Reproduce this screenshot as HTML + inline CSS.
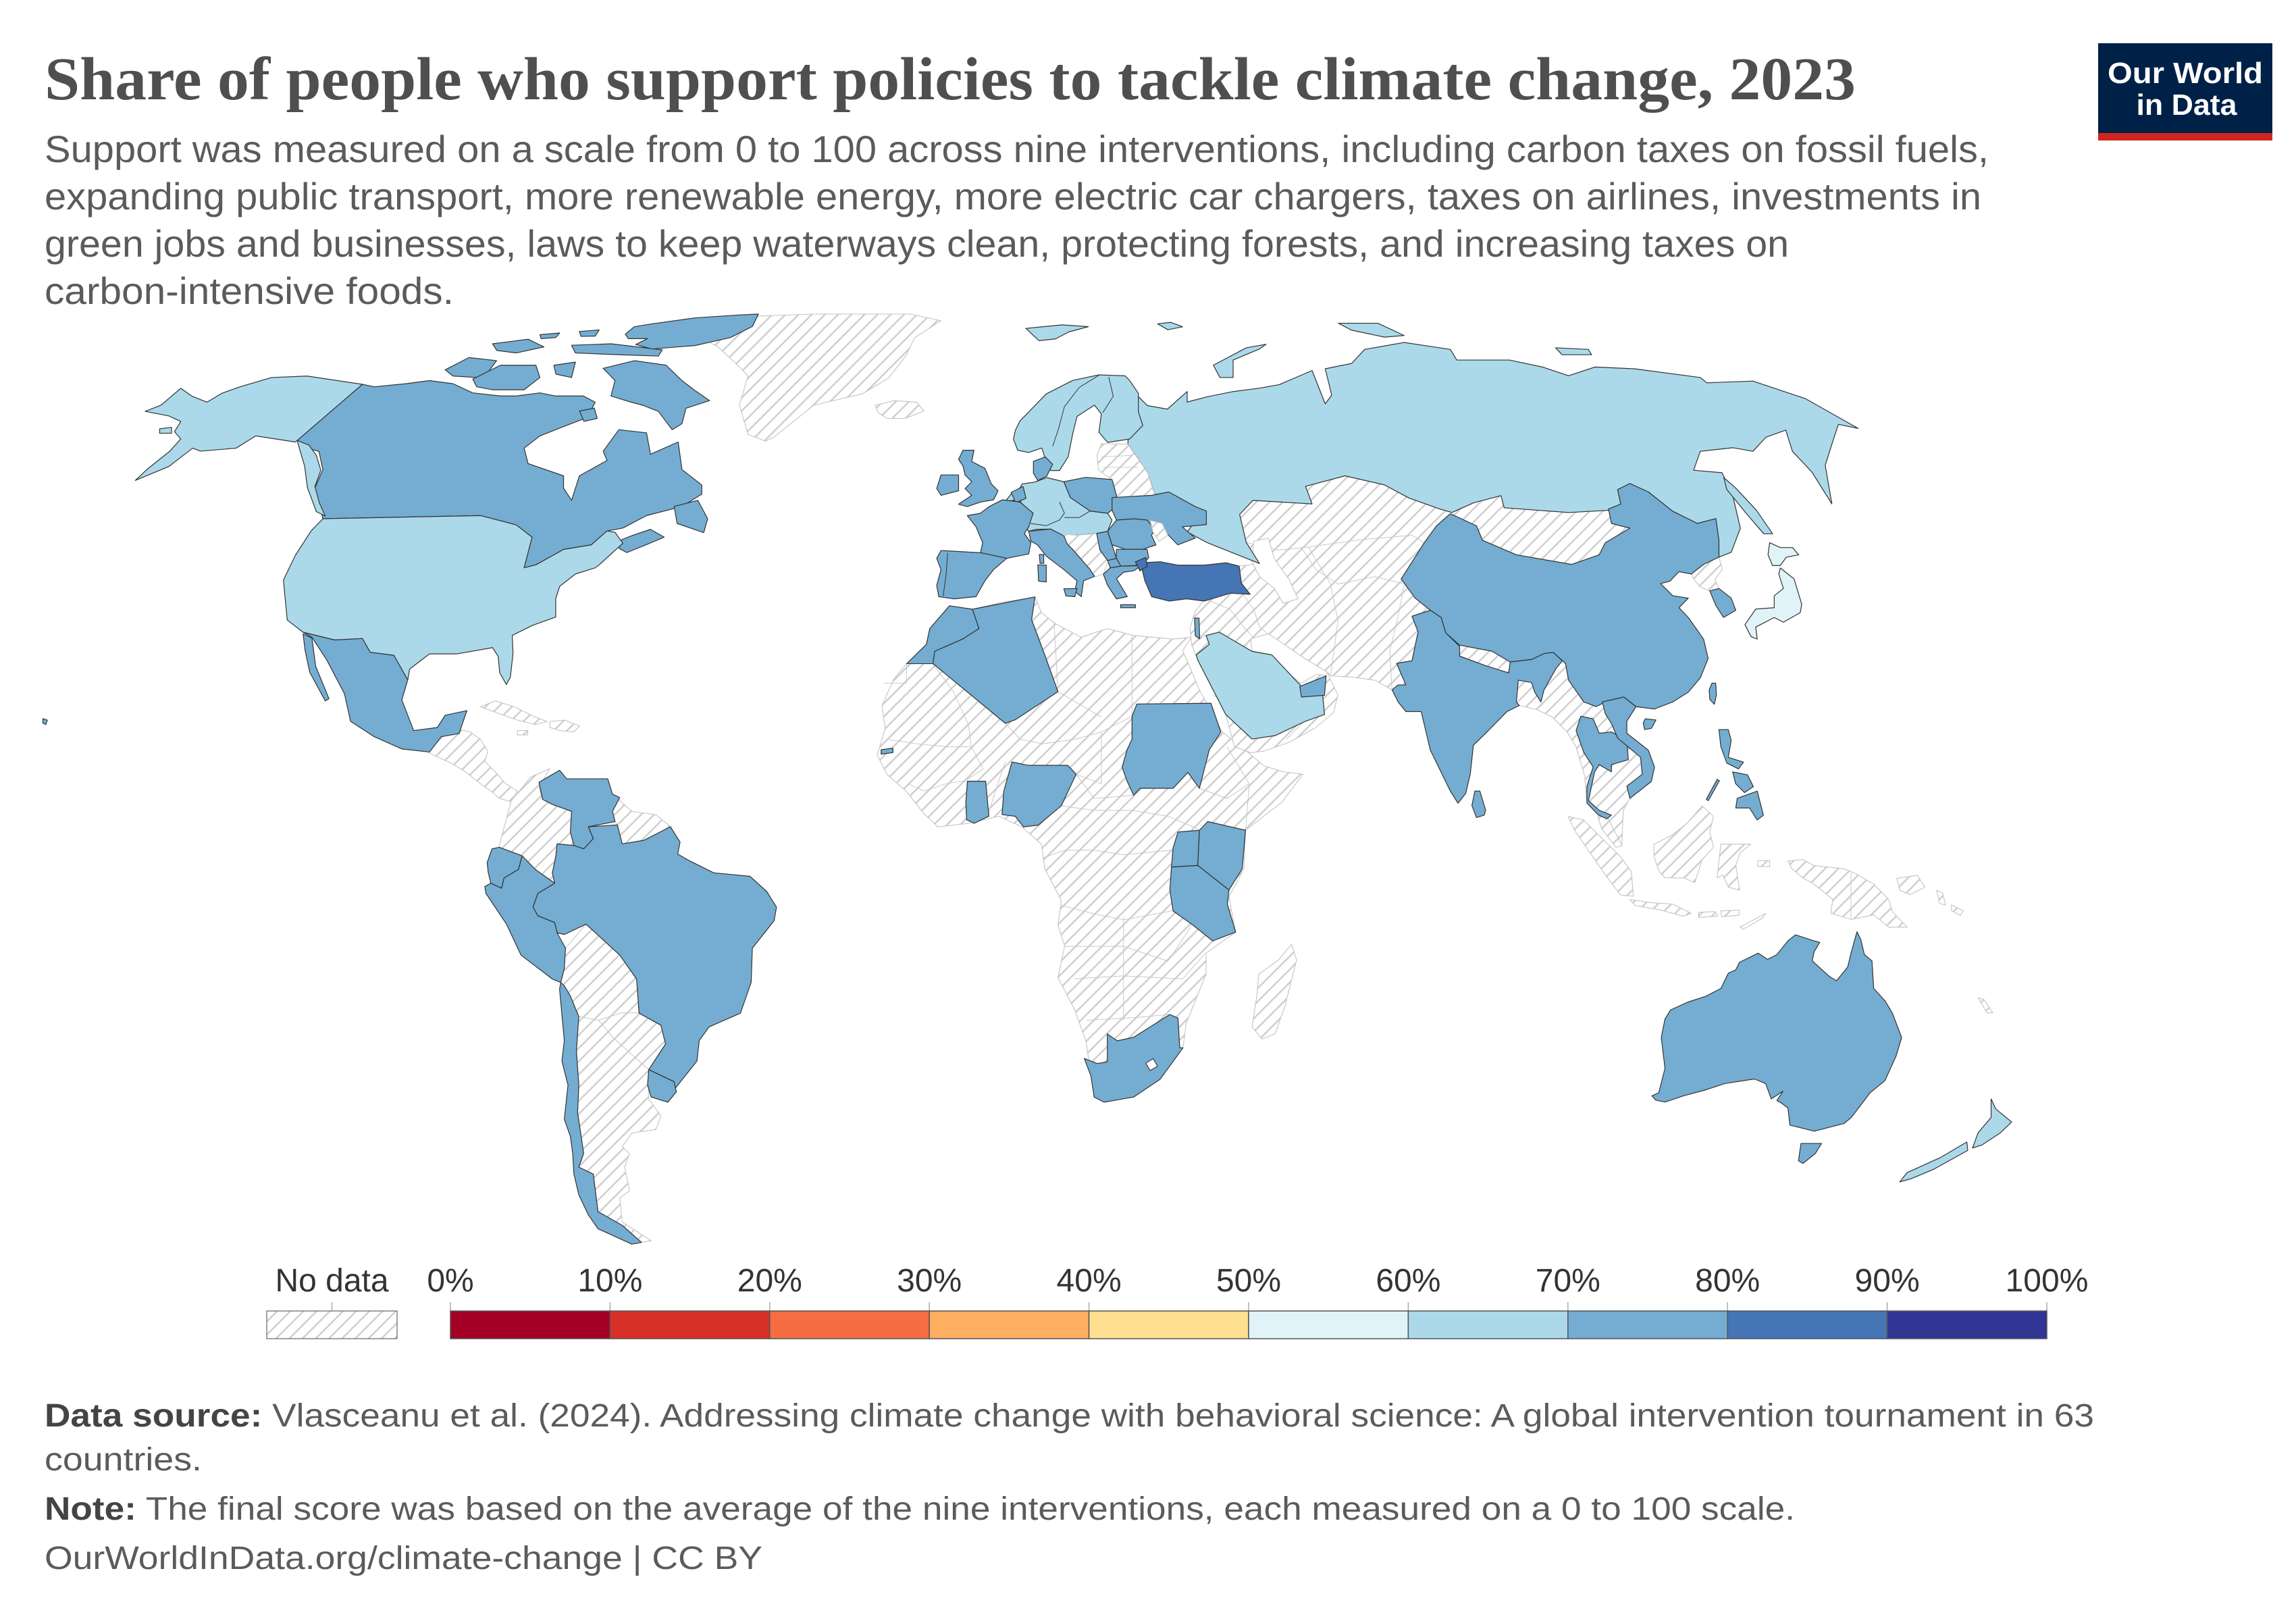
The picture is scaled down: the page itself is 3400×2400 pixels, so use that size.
<!DOCTYPE html>
<html><head><meta charset="utf-8"><style>
html,body{margin:0;padding:0;background:#fff;}
svg{display:block;}
.m{fill:#74add1;stroke:#333;stroke-width:.55;stroke-linejoin:round}
.l{fill:#abd9e9;stroke:#333;stroke-width:.55;stroke-linejoin:round}
.d{fill:#4575b4;stroke:#333;stroke-width:.55;stroke-linejoin:round}
.x{fill:#e0f3f8;stroke:#333;stroke-width:.55;stroke-linejoin:round}
.h{fill:url(#hp);stroke:#c4c4c4;stroke-width:.5;stroke-linejoin:round}
.b{fill:none;stroke:#c8c8c8;stroke-width:.45}
.k{fill:none;stroke:#333;stroke-width:.45}
.w{fill:#fff;stroke:#c4c4c4;stroke-width:.5}
</style></head><body>
<svg width="3400" height="2400" viewBox="0 0 3400 2400" xmlns="http://www.w3.org/2000/svg">
<defs>
<pattern id="hp" patternUnits="userSpaceOnUse" width="6.3" height="6.3" patternTransform="rotate(45)"><rect width="6.3" height="6.3" fill="#fff"/><line x1="3.15" y1="0" x2="3.15" y2="6.3" stroke="#cdcdcd" stroke-width="1.1"/></pattern>
<pattern id="hp2" patternUnits="userSpaceOnUse" width="13.8" height="13.8" patternTransform="rotate(45)"><rect width="13.8" height="13.8" fill="#fff"/><line x1="6.9" y1="0" x2="6.9" y2="13.8" stroke="#cdcdcd" stroke-width="2.4"/></pattern>
</defs>
<rect width="3400" height="2400" fill="#fff"/>

<!-- Title -->
<text x="66" y="147" font-family="'Liberation Serif', serif" font-weight="bold" font-size="90" fill="#4f4f4f" textLength="2682" lengthAdjust="spacingAndGlyphs">Share of people who support policies to tackle climate change, 2023</text>
<g font-family="'Liberation Sans', sans-serif" font-size="56" fill="#5b5b5b">
<text x="66" y="240" textLength="2879" lengthAdjust="spacingAndGlyphs">Support was measured on a scale from 0 to 100 across nine interventions, including carbon taxes on fossil fuels,</text>
<text x="66" y="310" textLength="2868" lengthAdjust="spacingAndGlyphs">expanding public transport, more renewable energy, more electric car chargers, taxes on airlines, investments in</text>
<text x="66" y="380" textLength="2583" lengthAdjust="spacingAndGlyphs">green jobs and businesses, laws to keep waterways clean, protecting forests, and increasing taxes on</text>
<text x="66" y="450" textLength="606" lengthAdjust="spacingAndGlyphs">carbon-intensive foods.</text>
</g>

<!-- Logo -->
<rect x="3107" y="64" width="258" height="133" fill="#002147"/>
<rect x="3107" y="197" width="258" height="11" fill="#ce261e"/>
<g font-family="'Liberation Sans', sans-serif" font-weight="bold" font-size="44" fill="#fff" text-anchor="middle">
<text x="3236" y="123" textLength="230" lengthAdjust="spacingAndGlyphs">Our World</text>
<text x="3238" y="170" textLength="149" lengthAdjust="spacingAndGlyphs">in Data</text>
</g>

<!-- MAP -->
<g transform="scale(2.18926)">
<!-- hatched (no data) -->
<polygon class="h" points="470.4,226.8 509,213.9 550.5,212.4 615.8,212.4 636.5,216.9 618.7,228.3 612.8,240.5 600.9,255.8 583.1,266.4 550.5,274 523.8,295.4 517.9,298.4 506,293.8 500.1,274 506,254.2 497,245 485.3,234.4"/>
<polygon class="h" points="592,274 605,271 620,272 625,278 612,283 600,283 594,279"/>
<polygon class="h" points="290,509 294,494 300,493 306,492 318,495 325,500 330,508 328,515 335,522 342,530 350,535 345,542 338,540 332,535 325,530 315,522 305,516 296,512"/>
<polygon class="h" points="325,478 335,474 348,478 360,484 370,488 362,490 350,487 336,482"/>
<polygon class="h" points="372,488 382,487 392,491 388,495 378,494 372,492"/>
<polygon class="h" points="350,494 357,494 357,497 350,497"/>
<polygon class="h" points="337.7,571.8 345.8,541.7 358.9,525.5 371.9,519.8 364.6,532.5 367,540.6 373.6,544 386.6,548.7 385.8,562.6 388.2,571.8 376.8,570.7 376,578.8 373.6,590.3 375.2,597.3 362.1,588 353.2,578.8 337.7,573"/>
<polygon class="h" points="414.3,537.1 427.4,548.7 443.7,551 453.5,559.1 450.2,567.2 435.5,568.3 420.9,570.7 417.6,557.9 416,555.6 414.3,548.7 419.2,539.4"/>
<polygon class="h" points="381.7,655.1 382.5,641.2 396.4,625 419.2,645.9 430.6,662.1 432.3,685.2 447,693.3 450.2,706 438.8,723.4 438.8,743.1 447,754.6 443.7,763.9 427.4,766.2 420.9,775.5 425.8,780.1 422.5,789.3 425.8,805.5 419.2,810.2 420.9,826.4 440.4,839.1 433.9,840.2 420.9,828.7 404.5,819.4 401.3,794 391.5,789.3 394.8,780.1 390.7,752.3 391.5,733.8 389.9,710.7 391.5,687.5 385.8,673.6 379.3,664.4"/>
<polyline class="b" points="391.5,687.5 405,690 420,685 432,685"/>
<polyline class="b" points="405,690 415,702 438.8,723.4"/>
<!-- Africa -->
<polygon class="h" points="642.2,409.7 628.9,425.1 626.6,435.8 613.3,448.8 604.4,459.5 596.6,477.3 598.8,492.7 593.3,510.5 599.9,523.6 613.3,535.4 624.4,549.7 634.4,559.2 655.6,556.8 675.6,552 691.2,559.2 704.5,571 706.7,587.6 717.9,609 715.6,625.6 720.1,639.8 715.6,661.2 726.8,682.6 734.5,703.9 740.1,741.9 746.8,745.4 766.8,741.9 784.6,730 800.2,708.6 802.4,692 815.8,658.8 815.8,644.6 835.8,630.4 831.3,606.6 841.3,587.6 842.5,561.5 867,542.5 881.4,523.6 868,522 855,518 844.7,509.3 826.9,495.1 811.3,466.6 800,440 806,431 793.5,432.2 766.8,429.8 749,425.1 731.2,431 713.4,421.5 704.5,414.4 700.1,403.7 677.8,407.3 657.8,412"/>
<polyline class="b" points="613.3,448.8 613,462 598,462"/>
<polyline class="b" points="631,449 645,468 655,490 657,505 640,505 620,503 600,500"/>
<polyline class="b" points="680,489 690,500 705,503 727,500 745,495 765.7,484.4"/>
<polyline class="b" points="713,421 715.6,467.8 728,475 745,485"/>
<polyline class="b" points="765.7,429.8 765.7,484.4"/>
<polyline class="b" points="745,495 745,530 727.9,523.6"/>
<polyline class="b" points="727.9,523.6 740,540 766.8,537.8"/>
<polyline class="b" points="718,545 740,548 766,548 790,552 811,561"/>
<polyline class="b" points="706,580 720,575 740,575 760,578 792,575"/>
<polyline class="b" points="717,612 740,618 760,622 793,616"/>
<polyline class="b" points="720,640 760,640 790,650 806,626"/>
<polyline class="b" points="726.8,662 760,660 800,662"/>
<polyline class="b" points="735,690 770,688 791,686"/>
<polyline class="b" points="760,620 760,690"/>
<polyline class="b" points="653,528 640,530 625,535 614,530"/>
<polyline class="b" points="668,552 675,530 680,515"/>
<polyline class="b" points="657,505 665,520 653,528"/>
<polyline class="b" points="800,662 815,645"/>
<polyline class="b" points="820,470 842,480"/>
<polyline class="b" points="830,505 845,530 842.5,561.5"/>
<polyline class="b" points="811,533 830,540 845,530"/>
<polygon class="h" points="873.6,638.6 877,649.3 869.2,680.2 862.5,699.2 853.6,702.7 846.9,694.4 850.2,673 851.4,658.8 864.7,649.3"/>
<!-- Middle East / Central Asia / Mongolia -->
<polygon class="h" points="838,347 847.5,338.4 883.1,328.9 909.8,321.8 936.4,327.9 953,336.8 973.8,344.2 982.1,346.6 996.6,340.1 1015.3,335.2 1017.4,343.4 1061,346.6 1090,345 1096.3,340.9 1102.5,345 1090,354 1102.5,357.2 1085.9,367 1081.7,375.2 1063,381.7 1025.7,375.2 1002.8,365.4 998.7,355.6 981,347.4 971.7,355.6 963.4,367 947.8,391.5 957.2,404.5 967.5,412.7 955.1,416.7 959.2,427.3 955.1,446.9 944.7,448.6 950.9,463.2 945.7,463.2 941.6,466.5 930,460 915,458 900,457 898,454.7 900,460 905,470 902,482 890,492 872,502 855,508 846,509 835,505 829.1,483.2 810.2,446.4 806,436 805,425 808,414 815,405 832,401 845.6,401.9 839.7,394.4 838.2,382.9 851.9,381.1 843,366.9"/>
<polyline class="b" points="815,405 832,412 842,425 848,431"/>
<polyline class="b" points="840,401 848,412 852,424 858,429"/>
<polyline class="b" points="885,370 900,395 905,420 900,457"/>
<polyline class="b" points="905,395 930,390 950,395 945,420 940,440 941.6,466.5"/>
<polyline class="b" points="843,366.9 865,372 885,370 920,365 955,362 963.4,367"/>
<polyline class="b" points="880,370 890,385 905,395"/>
<polyline class="b" points="870,500 882,488"/>
<polyline class="b" points="806,436 815,430 822,428"/>
<!-- Caspian & Gulf -->
<polygon class="w" points="848,366 858,364 862,378 872,392 878,405 868,408 862,398 852,390 847,380"/>
<polygon class="w" points="846,432 858,428.6 882.5,445.3 898,454.7 897,457 891,456 880,462 873.6,457.1 860.3,442.9 846.9,440.5"/>
<!-- Indochina / Nepal / N Korea -->
<polygon class="h" points="1024,455 1044,446 1058.9,448.6 1061,460 1071.3,474.7 1079.6,477.9 1085.9,474.7 1098.3,471.4 1106.6,477.9 1100.4,487.7 1100.4,495.9 1114.9,507.3 1119.1,518.7 1117,528.5 1102.5,539.9 1098,548 1097,572 1093,568 1086,556 1078,548 1073,541 1072,525 1066,505 1060,495 1050,485 1040,480 1027.7,477.1 1025.7,474.7"/>
<polygon class="h" points="987.3,436.3 1009.1,440.4 1021.5,447.7 1020.5,455.1 1004.9,450.2 987.3,443.7"/>
<polygon class="h" points="1144,388.2 1152.3,381.7 1162.7,376.8 1165,385 1160,392 1162.7,398 1156.5,399.6 1150,397 1146,392"/>
<!-- Indonesia / PNG -->
<polygon class="h" points="1060.7,552.2 1070.8,554.3 1083.4,566.8 1096,579.2 1103.5,589.6 1104.8,606.2 1096,605.2 1085.9,591.7 1075.8,577.1 1065.7,562.6"/>
<polygon class="h" points="1080.9,552.2 1086,550 1093.5,564.7 1097.2,572 1093,573 1083.4,560.5"/>
<polygon class="h" points="1118.7,570.9 1131.3,564.7 1141.4,556.4 1151.4,545 1159,552.2 1156.5,562.6 1159,573 1151.4,581.3 1146.4,596.9 1138.8,593.7 1126.2,593.7 1122.4,589.6 1118.7,579.2"/>
<polygon class="h" points="1164,570.9 1184.2,570.9 1176.7,577.1 1174.1,585.4 1176.7,602 1169.1,600 1165.3,591.7 1161.5,593.7 1162.8,581.3"/>
<polygon class="h" points="1102.3,608.3 1116.1,610.4 1131.3,611.4 1143.9,617.6 1138.8,619.7 1123.7,615.5 1106.1,612.4"/>
<polygon class="h" points="1148.9,617 1160,616.5 1162,619.5 1149,620.5"/>
<polygon class="h" points="1164,616 1176.7,615.5 1176,619 1164.5,620"/>
<polygon class="h" points="1177,627 1194.3,617.7 1192,621 1179,628.5"/>
<polygon class="h" points="1189,582 1197,582 1197,586 1189,586"/>
<polygon class="h" points="1209.4,582.3 1219.5,581.3 1227,585.4 1247.2,587.5 1254.8,590.6 1267.4,597.9 1277.5,608.3 1280,616.6 1290.1,627 1277.5,627 1267.4,618.7 1252.3,621.8 1238.4,617.6 1239.7,608.3 1227,597.9 1219.5,593.7 1212,587.5"/>
<polyline class="b" points="1252,590 1252,621"/>
<polygon class="h" points="1283,594 1297,592 1302,600 1292,605 1285,602"/>
<polygon class="h" points="1310,602 1314,604 1316,612 1312,611"/>
<polygon class="h" points="1320,612 1328,616 1326,619 1320,616"/>
<polygon class="h" points="1338,674.7 1342,676 1348,685 1344,685"/>

<!-- Light blue -->
<polygon class="l" points="762.9,261.3 776.2,274.3 789.6,276.7 803,264.8 803,271.9 816.3,268.4 834.1,264.8 851.9,262.5 865.3,260.1 887.5,250.6 896.4,273.1 900.8,267.2 896.4,249.4 914.2,245.8 923.1,236.3 949.8,231.6 981,236.3 985.4,243.5 1021,243.5 1043.3,248.2 1061,254.1 1078.9,248.2 1105.6,249.4 1150.1,255.3 1154.5,258.9 1185.7,257.7 1221.2,269.6 1256.9,289.7 1243.5,287 1239.1,300.4 1234.6,314.7 1239.1,340.8 1225.7,319.4 1212.4,305.2 1207.9,290.9 1194.5,295.7 1185.7,305.2 1172.3,302.8 1150.1,305.2 1145.6,318 1164.8,319.7 1172,335 1177.2,357.2 1171,373.5 1162.7,376.8 1162.7,365.4 1160.6,350.7 1148.2,354 1131.5,345.8 1115,332.7 1102.5,327 1094.2,331.1 1096.3,340.9 1090,345 1061,346.6 1017.4,343.4 1015.3,335.2 996.6,340.1 982.1,346.6 973.8,344.2 953,336.8 936.4,327.9 909.8,321.8 883.1,328.9 887.5,340.8 847.5,338.4 838.5,347.9 843,366.9 851.9,381.1 816.3,366.9 803,359.7 811.9,347.9 789.6,338.4 780.7,333.6 776.2,319.4 762.9,300.4 764,280"/>
<polygon class="l" points="693.9,222.1 718.4,219.7 736.2,220.9 722.9,224.5 714,229.2 702.8,230.4"/>
<polygon class="l" points="783,219 792,218 800,221 790,223"/>
<polygon class="l" points="820.7,247 843,235.2 856.4,232.8 851.9,236 834.1,243.5 834.1,255.3 825.2,255.3"/>
<polygon class="l" points="905.3,218.6 932,218.6 949.8,226.9 936.5,228 914.2,223.3"/>
<polygon class="l" points="1052.2,235.2 1074.4,236.3 1076.6,239.9 1056.6,239.9"/>
<polygon class="l" points="1166,323 1174,330 1188,345 1199,361 1193,361 1181,347 1168,331"/>
<polygon class="l" points="686.9,290.8 689.9,284.7 707.7,266.4 725.5,257.3 743.3,253.5 761.1,254.2 764.1,257.3 770,266 770,278.6 773,287.7 764.1,296.9 749.2,299.2 743.3,292.3 745,280 740.3,274 728.5,281.6 725.5,293.8 722.5,309 716.6,318.2 710.7,318.2 707,310 704.7,303 695.8,306 688.4,304.5 685.5,296.9"/>
<polyline class="k" points="743,254 730,262 720,275 716,290 712,302"/>
<polyline class="k" points="750,255 753,268 746,279"/>
<!-- Belarus/Baltics, Balkans hatched -->
<polygon class="h" points="745,300 762.9,300.4 776.2,319.4 780.7,333.6 789.6,338.4 778,337 765,336 755.2,336.5 752.2,324.3 743,318 742,308"/>
<polyline class="b" points="745,309 765,308"/>
<polyline class="b" points="746,316 770,316"/>
<polygon class="l" points="686.9,335 691.4,327.3 700,326 708,323 719.6,325.8 724,336.5 737.4,345.6 749.2,347.1 752.2,351.7 749.2,359.3 741.8,360.8 728,362 719.6,362.4 710.7,357.8 701,358 695.8,359.3 692.9,355 697,351 698.8,347.1 689.9,339.5 680,339 684,334"/>
<polyline class="k" points="716.6,339.5 720,347 716.6,351.7 707.7,355.5 697,354"/>
<polyline class="k" points="737.4,345.6 730,350 720,350"/>
<polygon class="l" points="680,339 690,338 692,344 684,345"/>
<polygon class="m" points="684,333 692,329 694,337 687,340"/>
<polygon class="m" points="699,312 707,309 712,314 708,322 702,325 699,320"/>
<polygon class="m" points="719.6,325.8 734.4,322.8 752.2,324.3 755.2,335 755.2,342.6 749.2,347.1 737.4,345.6 724,336.5"/>
<polygon class="m" points="752.2,336.5 778.9,335 790.6,332.7 808.5,342.6 816,345.6 816,354.8 799.7,356.3 808.5,363.9 796.7,368.5 787.8,359.3 778.9,360.8 775.9,351.7 767,350.9 755.2,351.7 752.2,345"/>
<polygon class="h" points="716,361 728,362 741.8,360.8 749.2,359.3 752.2,368.5 755.2,377.6 749.2,380.6 746.3,388.3 741,390 735,384 728,377 720,368"/>
<polygon class="m" points="755.2,351.7 767,350.9 775.9,351.7 781,358 778.9,362 781.9,368.5 772.9,371.5 761.1,371.5 752.2,368.5 749.2,359.3"/>
<polygon class="h" points="778,352 786,354 790,362 784,366 780,360"/>
<polygon class="m" points="755.2,371.5 775.9,371.5 777,377 772.9,382.2 758.1,382.9 755,377.6"/>
<polygon class="m" points="741.8,360.8 749.2,359.3 752.2,368.5 755.2,377.6 749.2,379.1 744,372"/>
<polygon class="m" points="749.2,379.1 755.2,377.6 758.1,382.9 751,384"/>
<polygon class="m" points="746.3,388.3 751,384 758.1,382.9 772,382.5 766.9,386 760,387 755.2,391.3 762.5,403.5 755.2,405 749.2,395.9"/>
<polygon class="m" points="758,409 768,409 768,411 758,411"/>
<!-- Western Europe -->
<polygon class="m" points="651.4,304.5 658.8,304.5 657.3,312.1 666.2,316.7 670.6,327.3 675.1,331.9 672.1,338 663.2,339.5 654.3,342.6 648.4,341 657.3,335 652.8,330.4 657.3,325.8 652.8,321.2 651.4,315.2 648.4,310.6"/>
<polygon class="m" points="636.5,321.2 648.4,321.2 648.4,331.9 636.5,335 633.6,330.4"/>
<polygon class="m" points="678,338 689.9,339.5 698.8,347.1 695.8,356.3 692.9,360.8 697.3,367 695.8,374.6 681,377.6 663.2,373.8 664.7,367 660.2,356.3 654.3,348.7 663.2,347.1 669.1,342.6"/>
<polygon class="m" points="636.5,372.3 663.2,373.8 681,377.6 672.1,385.2 666.2,392.8 660.2,403.5 645.4,405 635,403.5 633.6,395.9 636.5,385.2 633.6,377.6"/>
<polyline class="k" points="641,374 640,388 638,403"/>
<polygon class="m" points="695.8,359.3 710.7,357.8 719.6,362.4 722,368 725.5,371.5 737.4,385.2 740.3,389.8 732.9,392.8 731.4,403.5 727,400 728.5,392.8 719.6,385.2 707.7,376.1 701.8,368.5 697.3,366"/>
<polygon class="m" points="719.6,398.2 728.5,398 727,403.5 721,403"/>
<polygon class="m" points="702,382 707.7,382.2 707.7,393.6 702.5,393"/>
<polygon class="m" points="703,375 706,375 706,381 703.5,381"/>
<!-- Turkey -->
<polygon class="d" points="771.5,380.6 784.8,379.9 796.7,382.2 814.5,382.2 829.3,380.6 838.2,382.9 839.7,394.4 845.6,401.9 832.3,401.2 814.5,406.5 802.6,405 790.8,406.5 779,403.5 774.4,392.8"/>
<polygon class="d" points="768,380 775,377 776,383 771,386"/>
<!-- Africa data -->
<polygon class="m" points="613.3,448.8 631.1,448.8 632.2,440.5 651.1,432.2 662.2,425.1 657.8,412 642.2,409.7 628.9,425.1 626.6,435.8"/>
<polygon class="m" points="657.8,412 700.1,403.7 697.8,419.1 706.7,442.9 715.6,467.8 686.7,486.8 680,489.2 631.1,448.8 632.2,440.5 651.1,432.2 662.2,425.1"/>
<polygon class="m" points="765.7,484.4 769,476.1 819.1,475.6 825.8,495.1 818,507 811.3,533.1 803.5,522.4 793.5,533.1 771.3,533.1 766.8,537.8 762.4,528.3 759,518.8 762.4,507 765.7,499.8"/>
<polygon class="m" points="677.8,550.9 678.9,535.4 684.5,515.3 695.6,517.6 722.3,517.6 727.9,523.6 717.9,544.9 702.3,558 692.3,559.2 686.7,552"/>
<polygon class="m" points="654.4,528.3 666.7,528.3 668.9,552 658.9,556.8 653.8,554.4 653.3,542.5"/>
<polygon class="m" points="596,507 604,506 604,509 596,510"/>
<polygon class="m" points="796.8,562.7 811.3,561.5 810.2,585.3 792.4,586.4 793.5,573.4"/>
<polygon class="m" points="811.3,561.5 816.9,555.6 842.5,561.5 840.2,587.6 831.3,601.9 810.2,585.3"/>
<polygon class="m" points="792.4,586.4 810.2,585.3 831.3,601.9 830.2,611.4 835.8,630.4 820.2,636.3 806.9,625.6 793.5,616.1 791.3,601.9"/>
<polygon class="m" points="733.4,715.8 742.3,719.3 749,718.1 749,699.2 755.7,703.9 766.8,701.5 791.3,686.1 796.8,688.5 798,708.6 800.2,708.6 784.6,730 766.8,741.9 746.8,745.4 740.1,741.9 737.9,727.6"/>
<polygon class="w" style="stroke:#333" points="775,719 780,716 783,721 778,724"/>
<polygon class="l" points="815.8,429.8 824.7,427.5 846.9,440.5 860.3,442.9 873.6,457.1 880.3,464.2 894.7,470.2 895.9,483.2 882.5,488 862.5,497.5 846.9,499.8 829.1,483.2 810.2,446.4 809.1,442.9 818,435.8"/>
<polygon class="m" points="879.2,464.2 897,457.1 895.9,470.2 880.3,471.4"/>
<polygon class="m" points="808,418 811,418 811.5,432 808.5,430"/>
<!-- Asia data -->
<polygon class="m" points="947.8,391.5 963.4,367 971.7,355.6 981,347.4 998.7,355.6 1002.8,365.4 1025.7,375.2 1063,381.7 1081.7,375.2 1085.9,367 1102.5,357.2 1090,354 1088,344.2 1096.3,340.9 1094.2,331.1 1102.5,327 1115,332.7 1131.5,345.8 1148.2,354 1160.6,350.7 1162.7,365.4 1162.7,376.8 1152.3,381.7 1144,388.2 1135.7,386.6 1129.5,393.1 1123.2,394.7 1131.5,402.9 1142,404.5 1135.7,411 1142,417.6 1152.3,432.2 1155.4,445.3 1150.2,458.3 1142,468.1 1131.5,474.7 1119.1,479.5 1106.6,477.9 1098.3,471.4 1085.9,474.7 1079.6,477.9 1071.3,474.7 1061,460 1058.9,448.6 1050.6,441.2 1036,446 1021.5,447.7 1009.1,440.4 987.3,436.3 977.9,428 974.8,417.6 967.5,412.7 957.2,404.5"/>
<polygon class="m" points="967.5,412.7 974.8,417.6 977.9,428 987.3,437.1 987.3,443.7 1004.9,450.2 1020.5,455.1 1021.5,447.7 1036,446 1044.4,442 1050.6,441.2 1056.8,446.9 1052.7,451.8 1044.4,466.5 1042.3,474.7 1038.1,468.1 1036,461.6 1027,460 1025.7,474.7 1027.7,477.1 1019.4,481.2 1004.9,495.9 996.6,504 994.5,523.6 991.4,536.6 986.2,543.2 981,535 967.5,507.3 961.3,481.2 950.9,481.2 945.7,474.7 941.6,466.5 945.7,463.2 950.9,463.2 944.7,448.6 955.1,446.9 959.2,427.3 955.1,416.7"/>
<polygon class="m" points="997.6,535 1001,535 1004.9,548 1003.9,551.3 998.7,552.9 995.6,544.8"/>
<polygon class="m" points="1069.3,484.4 1077.6,486.1 1081.7,495.9 1090,495 1100.4,500.7 1101.4,513.8 1090,517.1 1090,522 1081.7,517.1 1078.6,522 1075.5,536.6 1074.5,541.5 1081.7,548 1090,551.3 1086.9,553.8 1081,551 1073.4,543.1 1073.4,531.7 1077.6,518.7 1071.3,508.9 1066.1,494.2"/>
<polygon class="m" points="1083.8,474.7 1098.3,471.4 1106.6,477.9 1100.4,487.7 1100.4,495.9 1114.9,507.3 1119.1,518.7 1117,528.5 1102.5,539.9 1100.4,531.7 1110.8,523.6 1109.7,512.2 1094.2,499.1 1090,489.3 1085.9,482.8"/>
<polygon class="m" points="1112.9,486.1 1120.1,486.9 1117,492.6 1112.4,493.4 1111.5,489"/>
<polygon class="m" points="1158,462 1160.5,462 1161,470 1159.6,476.3 1156.5,473 1156.1,466.5"/>
<polygon class="m" points="1156.5,399.6 1162.7,398 1171,404.5 1174.1,412.7 1165.8,417.6 1160.6,409.4"/>
<polygon class="x" points="1197,367 1204.2,370.3 1212.5,370.3 1216.6,375.2 1208.3,376.8 1204.2,382.5 1199,382.5 1195.9,375.2"/>
<polygon class="x" points="1204.2,384.1 1213.5,391.5 1218.7,408.6 1217.7,414.3 1206.3,420.8 1200.1,417.6 1187.6,424.1 1188.6,432.2 1184.5,430.6 1180.3,422.5 1187.6,411.9 1200.1,411 1200.1,402.9 1206.3,398 1203.2,388.2"/>
<polygon class="m" points="1162.7,493.4 1169,493.4 1171,500.7 1169,512.2 1179.3,515.4 1176,520 1168,516 1164,505"/>
<polygon class="m" points="1172,522 1182,524 1186,532 1180,536 1174,530"/>
<polygon class="m" points="1175.1,539.9 1188.6,535 1192.8,551.3 1188.6,554.6 1183.4,546.4 1174.1,546.4"/>
<polygon class="m" points="1161.5,527 1163,528 1155.5,541.5 1154.2,540.5"/>
<!-- North America -->
<polygon class="m" points="245.1,259.9 253.1,261.6 274.4,259.5 290.5,257.4 306.5,259.5 319.8,265.7 338.5,267.8 349.2,267.8 365.2,265.7 375.9,267.8 394.6,267.8 402.6,272 397.3,282.3 381.2,288.5 365.2,294.8 354.5,303.1 357.2,313.5 381.2,321.8 381.2,330.1 386.6,338.4 391.9,321.8 410.6,311.4 408,305.1 418.6,290.6 437.3,292.7 440,307.2 458.7,298.9 461.3,317.6 474.7,328 474.7,334.2 461.3,342.5 437.3,348.7 421.3,357.1 410.6,359.1 399.9,368.5 381.2,371.6 362.5,382 354.5,384 359.9,363.3 349.2,355 325.2,348.7 218.4,350.8 215.7,340.4 213,330.1 218.4,317.6 215.7,305.2 207.7,303.1 201,297.9"/>
<polygon class="m" points="456,342.5 472,338.4 478.7,350.8 476,360.2 466.7,357 458,354"/>
<polygon class="m" points="418,366 428,362 440,358 449.3,363.3 438,368 424,373.7 419,371"/>
<polygon class="m" points="408,249.1 429.3,243.9 450.6,247 461.3,257.4 469.4,263.6 480,270.9 464,276.1 461.3,286.5 454.7,290.6 445.3,278.2 434.6,274 426.6,271.9 413.3,267.8 416,257.4"/>
<polygon class="m" points="301.1,250.1 317.2,241.8 335.9,243.9 330.5,251.2 322.5,255.3 306.5,254.3"/>
<polygon class="m" points="319.8,256.4 338.5,247 362.5,247 365.2,255.3 354.5,263.6 333.2,263.6 322.5,261.6"/>
<polygon class="m" points="333.2,232.5 357.2,229.4 367.9,234.6 349.2,238.7 336,237"/>
<polygon class="m" points="365.2,226.3 378.6,225.2 375.9,228.3 366,229"/>
<polygon class="m" points="374.6,247 389.2,244.9 386.6,255.3 376,253"/>
<polygon class="m" points="386.6,233.5 413.3,232.5 448,236.6 445.3,240.8 416,239.8 389.2,238.7"/>
<polygon class="m" points="391.9,224.2 405.3,223.1 402.6,227.3 393,227.5"/>
<polygon class="m" points="423,226 429,221 441,219 470,215 500,213 513,212.4 509,220.7 494,228.3 470,233.7 441,236 430,233 438,229 425,229"/>
<polygon class="m" points="392,278 402,276 404,283 395,285"/>
<polygon class="m" points="207,318 211,317 212,325 208,325"/>
<polygon class="l" points="91.5,324.9 114.2,315.5 130.3,303.1 135.6,305.1 159.6,303.1 173,294.8 199.7,298.9 201,297.9 245.1,259.9 207.7,254.3 183.7,255.3 162.3,261.6 150,266 140,272 130,268 122.3,262.6 108.9,274 98.2,278.2 114.2,281.3 122.3,285 118,292 122.3,296.8 115,305 100,317"/>
<polygon class="l" points="201,297.9 209,301 214,308 217,318 213,329 216,340 220,349 214,346 208,330 206,315 203,305"/>
<polygon class="l" points="108,290 116,289 116,293 108,293"/>
<polygon class="l" points="218.4,350.8 325.2,348.7 349.2,355 359.9,363.3 354.5,384 362.5,382 381.2,371.6 399.9,368.5 410.6,359.1 416,360 421.3,367.4 405.3,382 402.6,384 389.2,388.2 378.6,396.5 375.9,404.8 375.9,417.3 360,423 346.5,429.7 347,442 345.2,458 342.5,462.9 338,455 337,444 333.2,438 309.2,442.2 290.5,442.2 277.1,452.5 275.8,459.8 266.4,443.2 250.4,441.1 245.1,431.8 226.4,432.8 205,427.6 194.3,419.3 191.7,392.3 199.7,375.7 210.4,359.1"/>
<polygon class="m" points="205,427.6 226.4,432.8 245.1,431.8 250.4,441.1 266.4,443.2 275.8,459.8 271.8,473.3 279.8,494.1 295.8,492 301.1,483.7 315.8,480.6 310.5,496.1 298.5,498.2 290.5,508.6 271.8,506.5 253.1,498.2 237.1,487.8 233,469.2 221,446.3 211,431"/>
<polygon class="m" points="205,428.7 211,431.5 213.5,450.5 222.5,472.5 220,474 209.5,454.6 206.4,440"/>
<polygon class="m" points="29,486 32,487 31,490 29,489"/>
<!-- South America -->
<polygon class="m" points="364.6,529 378.5,520.9 383.3,526.7 411.1,526.7 414.3,537.1 419.2,539.4 414.3,548.7 416,555.6 398,559.1 401.3,567.2 394.8,574.1 388.2,571.8 385.8,562.6 386.6,548.7 373.6,544 367,540.6"/>
<polygon class="m" points="376.8,570.7 388.2,571.8 394.8,574.1 401.3,567.2 398,559.1 417.6,557.9 420.9,570.7 435.5,568.3 453.5,559.1 460,569.5 458.4,577.6 466.5,582.2 482.8,590.3 507.3,592.6 518.7,603 525.2,613.5 523.6,622.7 508.9,641.2 508.1,664.4 500.8,685.2 479.6,694.5 473,703.7 471.4,717.6 456.7,736.1 455.9,731.5 438.8,723.4 450.2,706 447,693.3 432.3,685.2 430.6,662.1 419.2,645.9 396.4,625 381.7,632 376.8,630.8 375.2,623.9 363.8,619.3 360.5,613.5 363.8,604.2 375.2,597.3 373.6,590.3 376,578.8"/>
<polygon class="m" points="329.5,583.4 332.8,574.1 337.7,573 353.2,578.8 350.7,588 340.9,593.8 339.3,600.7 332,597.3 330.3,590.3"/>
<polygon class="m" points="353.2,578.8 362.1,588 375.2,597.3 363.8,604.2 360.5,613.5 363.8,619.3 375.2,623.9 376.8,630.8 382.5,641.2 381.7,655.1 379.3,664.4 373.6,662.1 352.4,645.9 342.6,625 328.7,604.2 327.9,599.6 332,597.3 339.3,600.7 340.9,593.8 350.7,588"/>
<polygon class="m" points="379.3,664.4 381.7,666.7 385.8,673.6 391.5,687.5 389.9,710.7 391.5,733.8 390.7,752.3 394.8,780.1 391.5,789.3 401.3,794 404.5,819.4 420.9,828.7 433.9,840.2 427.4,841.4 404.5,831 398,821.7 391.5,807.9 388.2,794 387.4,780.1 385.8,768.5 381.7,756.9 384.2,733.8 380.1,717.6 381.7,703.7 378.5,669"/>
<polygon class="m" points="438.8,723.4 455.9,731.5 457.5,738.4 451.8,745.4 440.4,741.9 438,733.8"/>
<!-- Oceania -->
<polygon class="m" points="1117.4,741.1 1122,739 1126.2,722.5 1123.7,701.7 1126.2,689.2 1130,683 1141.4,677.8 1154,673.7 1164,668.5 1169.1,658.1 1174,656 1176.6,650.8 1189.3,644.6 1195.6,648.8 1201.9,645.6 1209.4,636.3 1214.5,632.2 1227.1,636.3 1230.9,637.3 1227.1,643.6 1225.8,649.8 1237.2,660.2 1242.2,663.3 1249.8,654 1252.3,643.6 1256.1,630.1 1258.6,635.3 1261.1,645.6 1266.2,649.8 1267.4,668.5 1275,676.8 1280,685.1 1286.3,701.7 1282.5,714.2 1275,730.8 1264.9,739.1 1252.3,755.7 1247.3,759.8 1227.1,765 1210.7,760.9 1209.4,749.4 1205,746 1201.9,744.3 1206,738 1198.1,743.2 1194.3,732.8 1186.7,729.7 1166.6,732.8 1154,737 1138.8,741.1 1126.2,745.3 1120,744"/>
<polygon class="m" points="1218.2,773.3 1232.1,773.3 1228,780 1219.5,786.8 1216.5,785"/>
<polygon class="l" points="1346.8,743.2 1350,750 1360.7,758.8 1353.1,766.1 1340.5,774.4 1334.2,776.4 1338,766.1 1346.8,755.7"/>
<polygon class="l" points="1330.4,772.3 1331,778 1307.7,790.9 1292.6,797.2 1285,799.3 1290,793 1312.8,782.7"/>
</g>

<!-- Legend -->
<g font-family="'Liberation Sans', sans-serif" font-size="48" fill="#333" text-anchor="middle">
<text x="491.5" y="1912">No data</text>
<text x="667" y="1912">0%</text>
<text x="903.4" y="1912">10%</text>
<text x="1139.8" y="1912">20%</text>
<text x="1376.2" y="1912">30%</text>
<text x="1612.6" y="1912">40%</text>
<text x="1849" y="1912">50%</text>
<text x="2085.4" y="1912">60%</text>
<text x="2321.8" y="1912">70%</text>
<text x="2558.2" y="1912">80%</text>
<text x="2794.6" y="1912">90%</text>
<text x="3031" y="1912">100%</text>
</g>
<g stroke="#aaa" stroke-width="1.5">
<line x1="491.5" y1="1928" x2="491.5" y2="1941"/>
<line x1="667" y1="1928" x2="667" y2="1941"/>
<line x1="903.4" y1="1928" x2="903.4" y2="1941"/>
<line x1="1139.8" y1="1928" x2="1139.8" y2="1941"/>
<line x1="1376.2" y1="1928" x2="1376.2" y2="1941"/>
<line x1="1612.6" y1="1928" x2="1612.6" y2="1941"/>
<line x1="1849" y1="1928" x2="1849" y2="1941"/>
<line x1="2085.4" y1="1928" x2="2085.4" y2="1941"/>
<line x1="2321.8" y1="1928" x2="2321.8" y2="1941"/>
<line x1="2558.2" y1="1928" x2="2558.2" y2="1941"/>
<line x1="2794.6" y1="1928" x2="2794.6" y2="1941"/>
<line x1="3031" y1="1928" x2="3031" y2="1941"/>
</g>
<rect x="395" y="1941" width="193" height="41" fill="url(#hp2)" stroke="#666" stroke-width="1.2"/>
<g stroke="#555" stroke-width="1.5">
<rect x="667" y="1941" width="236.4" height="41" fill="#a50026"/>
<rect x="903.4" y="1941" width="236.4" height="41" fill="#d73027"/>
<rect x="1139.8" y="1941" width="236.4" height="41" fill="#f46d43"/>
<rect x="1376.2" y="1941" width="236.4" height="41" fill="#fdae61"/>
<rect x="1612.6" y="1941" width="236.4" height="41" fill="#fee090"/>
<rect x="1849" y="1941" width="236.4" height="41" fill="#e0f3f8"/>
<rect x="2085.4" y="1941" width="236.4" height="41" fill="#abd9e9"/>
<rect x="2321.8" y="1941" width="236.4" height="41" fill="#74add1"/>
<rect x="2558.2" y="1941" width="236.4" height="41" fill="#4575b4"/>
<rect x="2794.6" y="1941" width="236.4" height="41" fill="#313695"/>
</g>

<!-- Footer -->
<g font-family="'Liberation Sans', sans-serif" font-size="48" fill="#5b5b5b">
<text x="66" y="2112" textLength="3035" lengthAdjust="spacingAndGlyphs"><tspan font-weight="bold" fill="#444">Data source:</tspan> Vlasceanu et al. (2024). Addressing climate change with behavioral science: A global intervention tournament in 63</text>
<text x="66" y="2177" textLength="233" lengthAdjust="spacingAndGlyphs">countries.</text>
<text x="66" y="2250" textLength="2592" lengthAdjust="spacingAndGlyphs"><tspan font-weight="bold" fill="#444">Note:</tspan> The final score was based on the average of the nine interventions, each measured on a 0 to 100 scale.</text>
<text x="66" y="2323" textLength="1063" lengthAdjust="spacingAndGlyphs">OurWorldInData.org/climate-change | CC BY</text>
</g>
</svg>
</body></html>
